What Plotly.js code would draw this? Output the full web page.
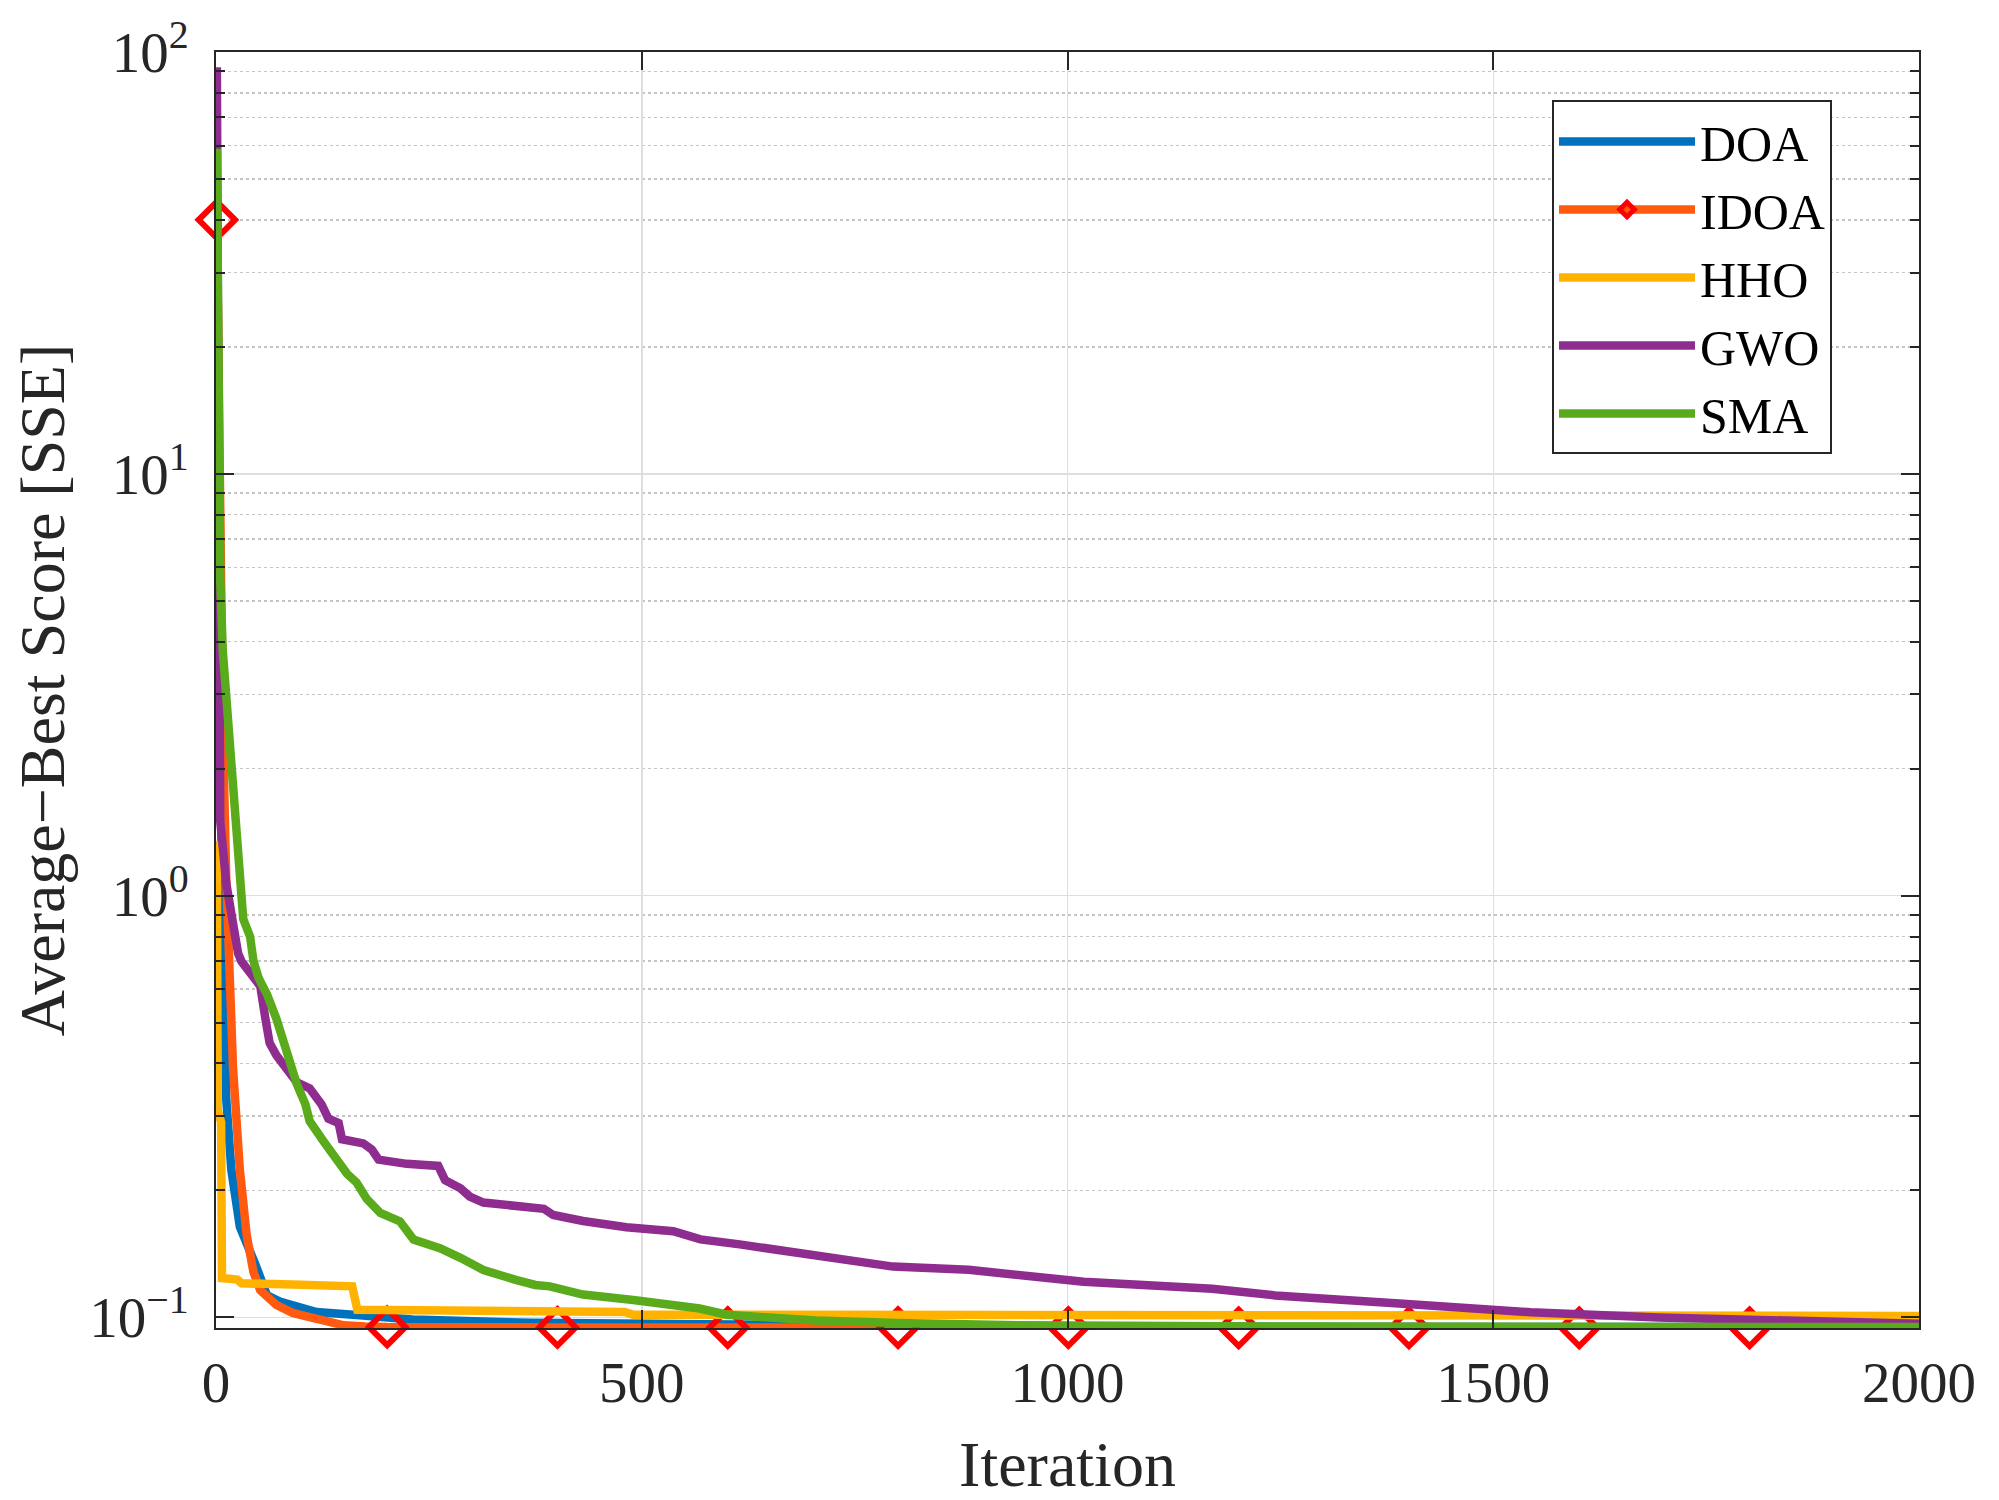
<!DOCTYPE html>
<html>
<head>
<meta charset="utf-8">
<script src="https://cdn.plot.ly/plotly-3.0.1.min.js"></script>
<style>html,body{margin:0;padding:0;background:#fff;}#chart{width:1999px;height:1500px;}</style>
</head>
<body>
<div id="chart"></div>
<script>
// ---- data ----
const seriesNames = ["DOA", "IDOA", "HHO", "GWO", "SMA"];

const doaIter = [1, 3, 6, 9, 12, 18, 28, 46, 60, 75, 91, 118, 169, 231, 370, 570, 800, 1200, 2000];
const doaScore = [35, 5, 1.5, 0.7, 0.33, 0.224, 0.164, 0.134, 0.1128, 0.109, 0.1069, 0.1030, 0.1012, 0.0989, 0.0971, 0.0963, 0.0955, 0.0951, 0.0948];

const idoaIter = [1, 4, 8, 12, 20, 28, 36, 44, 52, 71, 90, 110, 130, 150, 175, 201, 401, 601, 801, 1001, 1201, 1401, 1601, 1801, 2000];
const idoaScore = [40, 8, 2.5, 1.1, 0.39, 0.224, 0.157, 0.128, 0.116, 0.107, 0.1025, 0.1002, 0.0975, 0.0958, 0.0952, 0.0949, 0.0947, 0.0946, 0.0946, 0.0946, 0.0945, 0.0945, 0.0945, 0.0945, 0.0945];
const idoaMarkerIter = [1, 201, 401, 601, 801, 1001, 1201, 1401, 1601, 1801];

const hhoIter = [1, 2, 6, 7, 25, 30, 100, 160, 166, 300, 305, 480, 490, 1000, 2000];
const hhoScore = [1.35, 0.31, 0.29, 0.124, 0.123, 0.1205, 0.1195, 0.1185, 0.1043, 0.1040, 0.1032, 0.1030, 0.1015, 0.1012, 0.1008];

const gwoIter = [1, 2, 3, 5, 12, 20, 26, 30, 40, 52, 58, 63, 71, 83, 95, 110, 124, 132, 144, 148, 173, 183, 191, 224, 261, 269, 287, 298, 314, 385, 396, 431, 482, 537, 557, 569, 615, 705, 795, 884, 975, 1019, 1170, 1244, 1394, 1544, 1694, 1844, 1920, 2000];
const gwoScore = [92, 20, 6, 1.5, 1.07, 0.85, 0.729, 0.698, 0.652, 0.61, 0.511, 0.447, 0.418, 0.391, 0.361, 0.349, 0.32, 0.296, 0.289, 0.2645, 0.2586, 0.25, 0.2366, 0.2313, 0.2287, 0.2116, 0.2023, 0.1935, 0.1872, 0.181, 0.175, 0.1693, 0.1637, 0.1601, 0.1548, 0.1531, 0.149, 0.141, 0.132, 0.1297, 0.125, 0.1215, 0.117, 0.1128, 0.1078, 0.1029, 0.1000, 0.0982, 0.0974, 0.0966];

const smaIter = [1, 3, 5, 8, 12, 16, 20, 24, 28, 32, 40, 44, 50, 60, 71, 79, 87, 95, 105, 110, 126, 142, 154, 165, 177, 193, 216, 232, 263, 287, 314, 353, 375, 392, 431, 490, 530, 568, 600, 650, 705, 800, 944, 1244, 2000];
const smaScore = [59, 12, 5.6, 3.8, 2.9, 2.3, 1.7, 1.35, 1.05, 0.88, 0.80, 0.70, 0.638, 0.583, 0.51, 0.447, 0.408, 0.357, 0.32, 0.292, 0.262, 0.234, 0.219, 0.209, 0.191, 0.177, 0.169, 0.153, 0.146, 0.1385, 0.1296, 0.1226, 0.1194, 0.1185, 0.1133, 0.110, 0.1075, 0.105, 0.1015, 0.0995, 0.0983, 0.097, 0.0958, 0.0952, 0.0949];

const xTickVals = [0, 500, 1000, 1500, 2000];
const yTickVals = [0.1, 1, 10, 100];
const yTickText = ["10<sup>\u22121</sup>", "10<sup>0</sup>", "10<sup>1</sup>", "10<sup>2</sup>"];

// ---- styling ----
const colors = ["#0072BD", "#FF5A0F", "#FFB300", "#8F2C8F", "#59AB1B"];
const LW = 8.5;
const FONT = "Liberation Serif, 'Times New Roman', serif";
const TXT = "#262626";

const idoaMarkerSize = idoaIter.map(v => idoaMarkerIter.includes(v) ? 28 : 0);

const traces = [
  {x: doaIter, y: doaScore, name: seriesNames[0], mode: "lines", line: {color: colors[0], width: LW}},
  {x: idoaIter, y: idoaScore, name: seriesNames[1], mode: "lines+markers", cliponaxis: false,
   line: {color: colors[1], width: LW},
   marker: {symbol: "diamond-open", size: idoaMarkerSize, color: "#FF0000", opacity: 1, line: {color: "#FF0000", width: 6}}},
  {x: hhoIter, y: hhoScore, name: seriesNames[2], mode: "lines", line: {color: colors[2], width: LW}},
  {x: gwoIter, y: gwoScore, name: seriesNames[3], mode: "lines", line: {color: colors[3], width: LW}},
  {x: smaIter, y: smaScore, name: seriesNames[4], mode: "lines", line: {color: colors[4], width: LW}}
];

// minor log ticks 2..9 per decade
const minorVals = [];
for (let e = -2; e <= 1; e++) for (let m = 2; m <= 9; m++) minorVals.push(m * Math.pow(10, e));

const layout = {
  width: 1999, height: 1500,
  margin: {l: 216, r: 80, t: 52, b: 172},
  paper_bgcolor: "#ffffff", plot_bgcolor: "#ffffff",
  font: {family: FONT, color: TXT, size: 57},
  showlegend: true,
  legend: {
    x: 0.7845, y: 0.962, xanchor: "left", yanchor: "top",
    bgcolor: "#ffffff", bordercolor: TXT, borderwidth: 2,
    font: {family: FONT, size: 50, color: "#000"},
    itemwidth: 136, tracegroupgap: 0
  },
  xaxis: {
    range: [0, 2000], tickmode: "array", tickvals: xTickVals,
    showline: true, linecolor: TXT, linewidth: 2, mirror: "ticks",
    ticks: "inside", ticklen: 18, tickwidth: 2, tickcolor: TXT,
    showgrid: true, gridcolor: "#dedede", gridwidth: 1.5,
    zeroline: false, ticklabelstandoff: 4,
    tickfont: {family: FONT, size: 57, color: TXT},
    title: {text: "Iteration", font: {family: FONT, size: 64, color: TXT}, standoff: 46}
  },
  yaxis: {
    type: "log", range: [-1.025, 2], tickmode: "array", tickvals: yTickVals, ticktext: yTickText,
    showline: true, linecolor: TXT, linewidth: 2, mirror: "ticks",
    ticks: "inside", ticklen: 18, tickwidth: 2, tickcolor: TXT,
    showgrid: true, gridcolor: "#dedede", gridwidth: 1.5,
    zeroline: false, ticklabelstandoff: 14,
    tickfont: {family: FONT, size: 57, color: TXT},
    minor: {tickmode: "array", tickvals: minorVals, ticks: "inside", ticklen: 9, tickwidth: 2, tickcolor: TXT,
            showgrid: true, gridcolor: "#c4c4c4", gridwidth: 1.5, griddash: "dot"},
    title: {text: "Average\u2212Best Score [SSE]", font: {family: FONT, size: 64, color: TXT}, standoff: 4}
  }
};

Plotly.newPlot("chart", traces, layout, {staticPlot: true, displayModeBar: false});
</script>
</body>
</html>
